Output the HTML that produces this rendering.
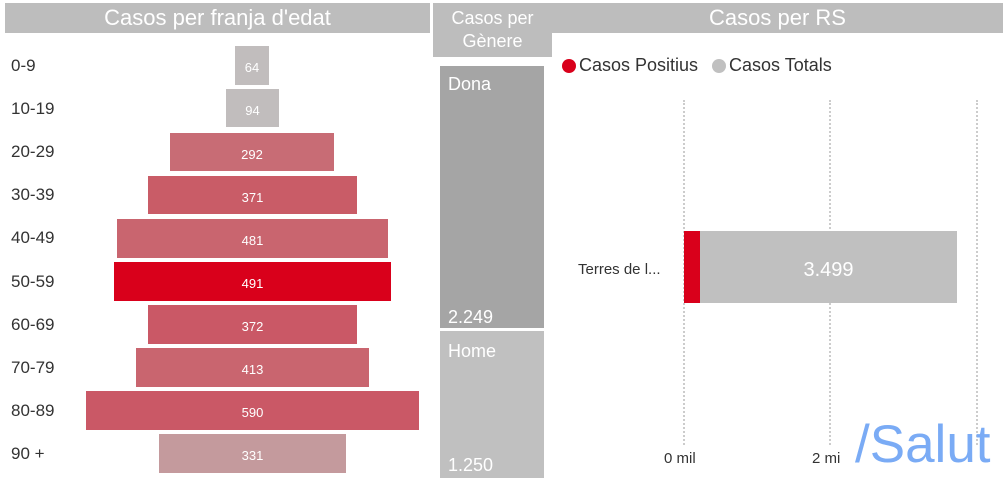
<!DOCTYPE html>
<html><head><meta charset="utf-8"><style>
body{margin:0;width:1004px;height:478px;background:#fff;position:relative;overflow:hidden;font-family:"Segoe UI","Liberation Sans","DejaVu Sans",sans-serif;}
div{position:absolute;box-sizing:border-box;}
.hdr{background:#bdbdbd;color:#fff;text-align:center;font-size:22px;}
.lab{left:11px;font-size:17px;color:#333;}
.bar{color:#fff;font-size:13px;text-align:center;}
.grid{width:0;border-left:2px dotted #ccc;top:100px;height:345px;}
</style></head><body>
<div class="hdr" style="left:5px;top:3px;width:425px;height:30px;line-height:30px;">Casos per franja d'edat</div>
<div class="hdr" style="left:552px;top:3px;width:451px;height:30px;line-height:30px;">Casos per RS</div>
<div class="hdr" style="left:433px;top:3px;width:119px;height:54px;font-size:18px;line-height:23px;padding-top:4px;">Casos per<br>Gènere</div>

<div class="lab" style="top:56px">0-9</div>
<div class="lab" style="top:99px">10-19</div>
<div class="lab" style="top:142px">20-29</div>
<div class="lab" style="top:185px">30-39</div>
<div class="lab" style="top:228px">40-49</div>
<div class="lab" style="top:272px">50-59</div>
<div class="lab" style="top:315px">60-69</div>
<div class="lab" style="top:358px">70-79</div>
<div class="lab" style="top:401px">80-89</div>
<div class="lab" style="top:444px">90 +</div>

<div class="bar" style="left:235px;top:46px;width:34px;height:39px;line-height:43px;background:#c1bdbd">64</div>
<div class="bar" style="left:226px;top:89px;width:53px;height:38px;line-height:43px;background:#c1bdbd">94</div>
<div class="bar" style="left:170px;top:133px;width:164px;height:38px;line-height:43px;background:#c86c75">292</div>
<div class="bar" style="left:148px;top:176px;width:209px;height:38px;line-height:43px;background:#c95c67">371</div>
<div class="bar" style="left:117px;top:219px;width:271px;height:39px;line-height:43px;background:#c9656f">481</div>
<div class="bar" style="left:114px;top:262px;width:277px;height:39px;line-height:43px;background:#d9001b">491</div>
<div class="bar" style="left:148px;top:305px;width:209px;height:39px;line-height:43px;background:#ca5866">372</div>
<div class="bar" style="left:136px;top:348px;width:233px;height:39px;line-height:43px;background:#c9656f">413</div>
<div class="bar" style="left:86px;top:391px;width:333px;height:39px;line-height:43px;background:#ca5866">590</div>
<div class="bar" style="left:159px;top:434px;width:187px;height:39px;line-height:43px;background:#c49a9d">331</div>

<div style="left:440px;top:66px;width:104px;height:262px;background:#a5a5a5;color:#fff;font-size:18px;padding:8px 8px;">Dona<div style="left:8px;bottom:0px;">2.249</div></div>
<div style="left:440px;top:331px;width:104px;height:147px;background:#c0c0c0;color:#fff;font-size:18px;padding:10px 8px;">Home<div style="left:8px;bottom:2px;">1.250</div></div>

<div style="left:562px;top:59px;width:14px;height:14px;border-radius:50%;background:#d9001b"></div>
<div style="left:579px;top:55px;font-size:18px;color:#333">Casos Positius</div>
<div style="left:712px;top:59px;width:14px;height:14px;border-radius:50%;background:#c0c0c0"></div>
<div style="left:729px;top:55px;font-size:18px;color:#333">Casos Totals</div>

<div class="grid" style="left:683px"></div>
<div class="grid" style="left:829px"></div>
<div class="grid" style="left:976px"></div>
<div style="left:578px;top:261px;font-size:15px;color:#333">Terres de l...</div>
<div style="left:684px;top:231px;width:273px;height:72px;background:#c0c0c0;color:#fff;font-size:20px;text-align:center;line-height:78px;padding-left:16px;">3.499</div>
<div style="left:684px;top:231px;width:16px;height:72px;background:#d9001b"></div>
<div style="left:664px;top:450px;font-size:15px;color:#333">0 mil</div>
<div style="left:812px;top:450px;font-size:15px;color:#333">2 mi</div>
<div style="left:855px;top:416px;font-size:53px;color:#7aabf5;font-family:'Liberation Sans',sans-serif;line-height:58px;">/Salut</div>
</body></html>
